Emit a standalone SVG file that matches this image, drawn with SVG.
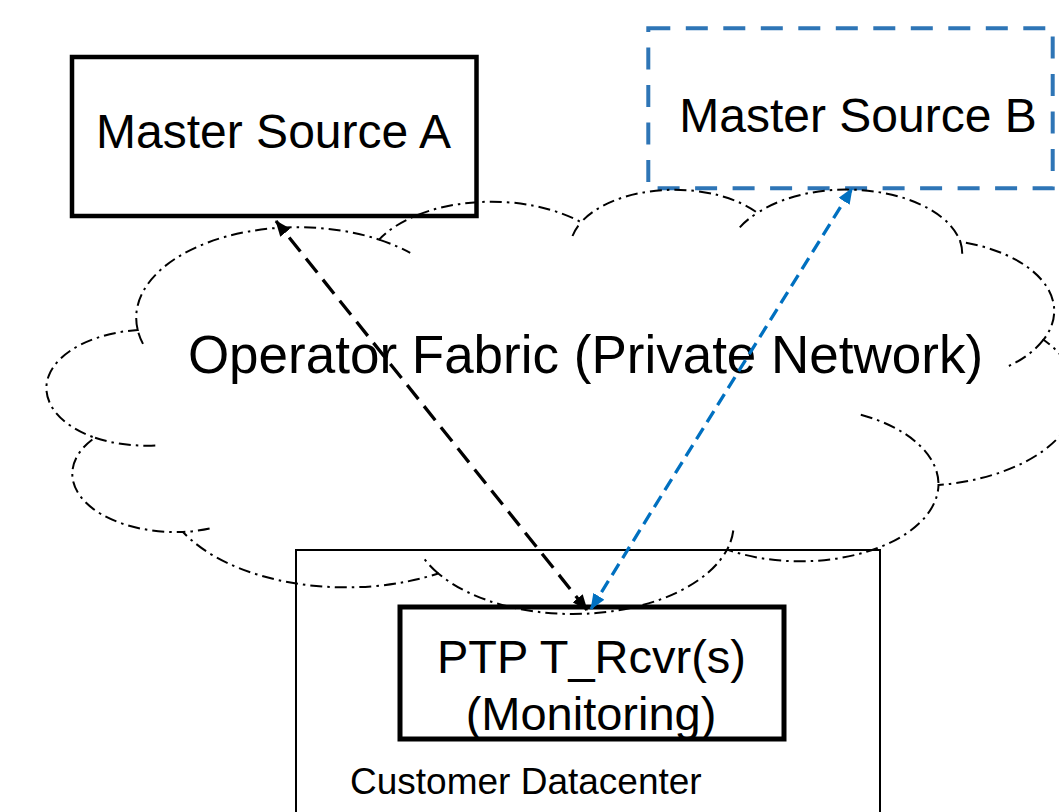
<svg xmlns="http://www.w3.org/2000/svg" width="1059" height="812" viewBox="0 0 1059 812">
<style>
  .box { fill: none; stroke: #000; }
  .lbl { font-family: "Liberation Sans", Arial, sans-serif; fill: #000; }
  .cloud { fill: none; stroke: #000; stroke-width: 2; stroke-dasharray: 12 5 2.5 5; }
  .conn { fill: none; stroke-width: 3.3; }
</style>
<defs>
  <marker id="ahK" viewBox="0 0 16 13" refX="15" refY="6.5" markerWidth="16" markerHeight="13" markerUnits="userSpaceOnUse" orient="auto-start-reverse">
    <path d="M0,0 L16,6.5 L0,13 z" fill="#000"/>
  </marker>
  <marker id="ahB" viewBox="0 0 16 13" refX="15" refY="6.5" markerWidth="16" markerHeight="13" markerUnits="userSpaceOnUse" orient="auto-start-reverse">
    <path d="M0,0 L16,6.5 L0,13 z" fill="#0070C0"/>
  </marker>
</defs>
<rect width="1059" height="812" fill="#fff"/>

<g id="customer-datacenter">
  <rect class="box" x="296" y="550" width="584" height="300" stroke-width="2"/>
  <text class="lbl" x="350" y="794" font-size="37">Customer Datacenter</text>
</g>

<g id="master-a">
  <rect class="box" x="72" y="57" width="404.5" height="159" stroke-width="4.5"/>
  <text class="lbl" x="273.5" y="148" font-size="48" text-anchor="middle">Master Source A</text>
</g>

<g id="master-b">
  <rect x="648.3" y="28.3" width="404.4" height="160" fill="none" stroke="#2E75B6" stroke-width="4" stroke-dasharray="22 15.5"/>
  <text class="lbl" x="858" y="132" font-size="48" text-anchor="middle">Master Source B</text>
</g>

<g id="ptp-rcvr">
  <rect class="box" x="400" y="607" width="384" height="132" stroke-width="5"/>
  <text class="lbl" x="591.5" y="673" font-size="47" text-anchor="middle">PTP T_Rcvr(s)</text>
  <text class="lbl" x="591" y="730" font-size="47" text-anchor="middle">(Monitoring)</text>
</g>

<g id="operator-fabric">
  <path class="cloud" d="M137.7,330 A161.4,90.5 0 0 1 379.1,239.6 A127.5,71.6 0 0 1 581.1,222.3 A104.3,58.6 0 0 1 757.5,212.9 A116.1,65 0 0 1 960.4,241.9 A127.5,71.6 0 0 1 1043.5,339.7 A161.9,90.8 0 0 1 938.5,485 A138.3,77.5 0 0 1 727.1,549.6 A161.4,90.8 0 0 1 438.3,573.5 A184.5,103.8 0 0 1 183,532 A104.2,58.3 0 0 1 94.7,437.7 A103.8,58.6 0 0 1 137.7,330 Z"/>
  <path class="cloud" d="M155.3,445.5 A103.8,58.6 0 0 1 94.7,437.7 M209.6,528.5 A104.2,58.3 0 0 1 183,532 M438.3,573.5 A161.4,90.8 0 0 1 422.4,556.3 M733.3,530.5 A161.4,90.8 0 0 1 727.1,549.6 M860.8,414.7 A138.3,77.5 0 0 1 938.5,485 M1043.5,339.7 A127.5,71.6 0 0 1 1008.9,366 M960.4,241.9 A116.1,65 0 0 1 962.2,254.3 M739.8,227.3 A116.1,65 0 0 1 757.5,212.9 M572.5,236 A104.3,58.6 0 0 1 581.1,222.3 M379.1,239.6 A161.4,90.5 0 0 1 410.2,252.9 M143,343.9 A161.4,90.5 0 0 1 137.7,330"/>
  <text class="lbl" x="585.5" y="373" font-size="53" text-anchor="middle">Operator Fabric (Private Network)</text>
</g>

<g id="connectors">
  <line class="conn" x1="587" y1="610" x2="276" y2="221" stroke="#000" stroke-dasharray="18 9" marker-start="url(#ahK)" marker-end="url(#ahK)"/>
  <line class="conn" x1="591" y1="609" x2="852" y2="188.5" stroke="#0070C0" stroke-dasharray="13 7" marker-start="url(#ahB)" marker-end="url(#ahB)"/>
</g>
</svg>
